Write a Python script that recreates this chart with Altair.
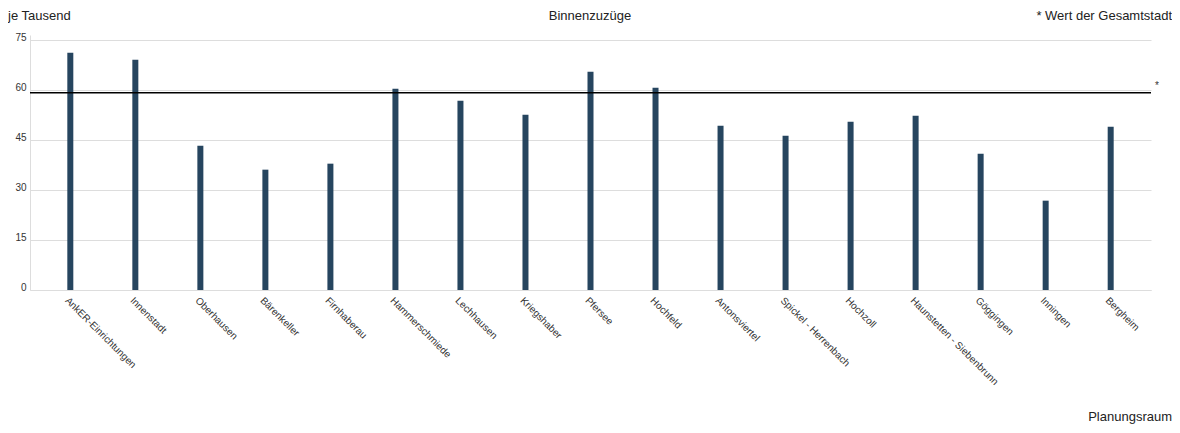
import altair as alt
import pandas as pd

categories = [
    "AnkER-Einrichtungen", "Innenstadt", "Oberhausen", "Bärenkeller", "Firnhaberau",
    "Hammerschmiede", "Lechhausen", "Kriegshaber", "Pfersee", "Hochfeld",
    "Antonsviertel", "Spickel - Herrenbach", "Hochzoll", "Haunstetten - Siebenbrunn",
    "Göggingen", "Inningen", "Bergheim",
]
values = [71.2, 69.1, 43.3, 36.1, 37.9, 60.4, 56.8, 52.6, 65.5, 60.7,
          49.3, 46.3, 50.5, 52.3, 40.9, 26.8, 49.0]
city_value = [59.2]
y_ticks = [0, 15, 30, 45, 60, 75]

df = pd.DataFrame({"Planungsraum": categories, "Wert": values})
ref = pd.DataFrame({"v": city_value})

FONT = "Liberation Sans"
BAR = "#26455f"

x_enc = alt.X(
    "Planungsraum:N",
    sort=categories,
    scale=alt.Scale(paddingInner=0, paddingOuter=0.12),
    axis=alt.Axis(
        title=None, labelAngle=45, labelAlign="left", labelBaseline="top",
        labelPadding=5, labelFontSize=10, labelColor="#333333", labelFont=FONT,
        ticks=False, domainColor="#dddddd", grid=False, labelOverlap=False,
        labelLimit=300,
    ),
)
y_scale = alt.Scale(domain=[0, 76.5], nice=False, zero=True)

bars = alt.Chart(df).mark_bar(width=6, color=BAR).encode(
    x=x_enc,
    y=alt.Y(
        "Wert:Q",
        scale=y_scale,
        axis=alt.Axis(
            title=None, values=y_ticks, labelFontSize=10, labelColor="#333333",
            labelFont=FONT, labelBaseline="alphabetic", labelPadding=4,
            ticks=False, domainColor="#dddddd", gridColor="#dddddd",
        ),
    ),
)

rule = alt.Chart(ref).mark_rule(color="#000000", strokeWidth=1.5).encode(
    y=alt.Y("v:Q", scale=y_scale)
)
star = alt.Chart(ref).mark_text(
    text="*", fontSize=10, font=FONT, color="#333333", align="left", baseline="middle", dy=-7
).encode(y=alt.Y("v:Q", scale=y_scale), x=alt.value(1125))

def label(txt, x, y, align, size=13):
    return alt.Chart(pd.DataFrame({"t": [txt]})).mark_text(
        fontSize=size, font=FONT, color="#222222", align=align, baseline="middle"
    ).encode(text="t:N", x=alt.value(x), y=alt.value(y))

chart = alt.layer(
    bars, rule, star,
    label("je Tausend", -22, -19, "left"),
    label("Binnenzuzüge", 560, -19, "center"),
    label("* Wert der Gesamtstadt", 1142, -19, "right"),
    label("Planungsraum", 1142, 382, "right"),
).properties(
    width=1121, height=255,
    padding={"left": 22, "top": 27, "right": 21, "bottom": 134},
    autosize=alt.AutoSizeParams(type="none"),
    background="#ffffff",
).configure_view(stroke=None)

chart.save("out.html", embed_options={"renderer": "svg", "actions": False})
